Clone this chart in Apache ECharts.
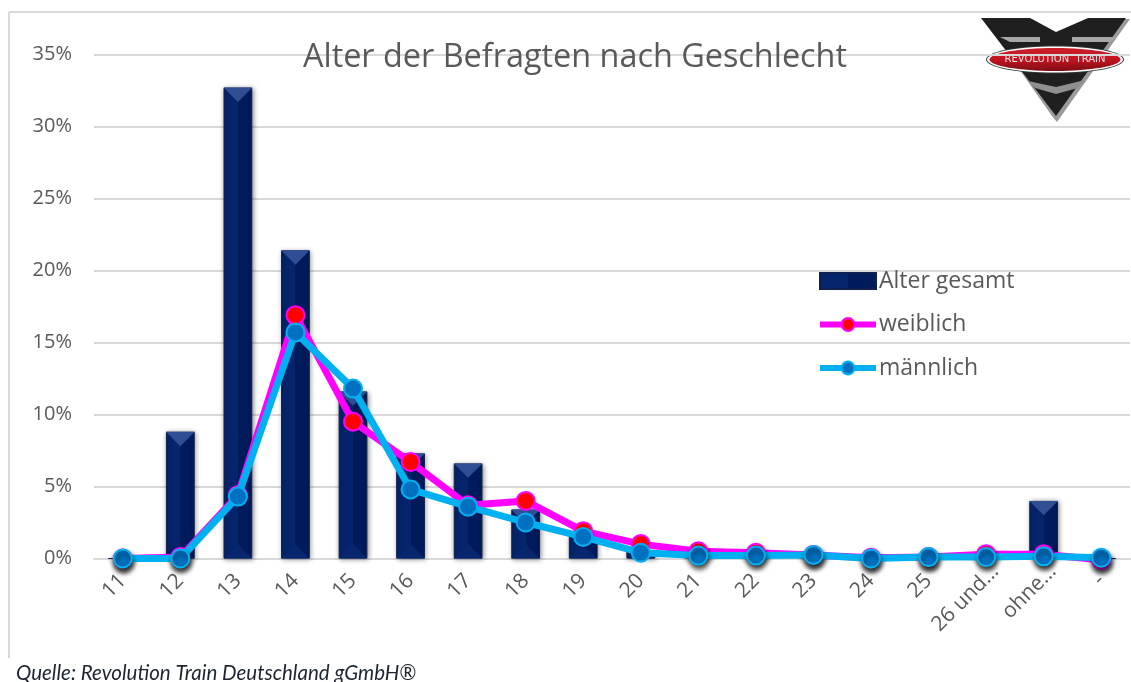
<!DOCTYPE html>
<html><head><meta charset="utf-8">
<style>html,body{margin:0;padding:0;background:#fff;overflow:hidden}#c{width:1131px;height:682px}</style>
<script src="https://cdn.jsdelivr.net/npm/echarts@6/dist/echarts.min.js"></script>
</head><body><div id="c"></div>
<script>
const categories = ['11','12','13','14','15','16','17','18','19','20','21','22','23','24','25','26 und…','ohne…','-'];
const gesamt = [0,8.8,32.7,21.4,11.6,7.3,6.6,3.4,1.7,0.5,0.2,0.2,0.2,0.05,0.1,0.2,4.0,0];
const weiblich = [0,0.1,4.4,16.9,9.5,6.7,3.7,4.0,1.9,1.0,0.5,0.4,0.25,0.05,0.1,0.3,0.3,-0.1];
const maennlich = [0,0,4.3,15.7,11.8,4.8,3.6,2.5,1.5,0.4,0.2,0.2,0.25,0,0.1,0.1,0.15,0.05];
const yTicks = {min:0,max:35,interval:5};

const TXT = '#595959', FONT = '"Open Sans"';
const barFill = {type:'linear',x:0,y:0,x2:1,y2:0,colorStops:[
  {offset:0,color:'#05246c'},{offset:0.5,color:'#05246c'},{offset:0.5,color:'#001b5b'},{offset:1,color:'#001b5b'}]};

function bevel(params, api){
  const idx = api.value(0), v = api.value(1);
  if (v <= 0.3) return null;
  const top = api.coord([idx, v]), base = api.coord([idx, 0]);
  const w = api.size([1,0])[0]*0.5, h = base[1]-top[1], t = Math.min(w/2, h/2);
  const L = top[0]-w/2, R = top[0]+w/2;
  return {type:'group',children:[
    {type:'polygon',shape:{points:[[L,top[1]],[R,top[1]],[top[0],top[1]+t]]},style:{fill:'#2f4e94'}},
    {type:'polygon',shape:{points:[[L,base[1]],[R,base[1]],[top[0],base[1]-t]]},style:{fill:'#07266e'}}
  ]};
}
const lineSym = (fill, ring) => ({color:fill,borderColor:ring,borderWidth:2});
const low = (arr, fill, ring) => arr.map((v,i)=> (i<2||i>=10)
  ? {value:v,itemStyle:{color:fill,borderColor:ring,borderWidth:2,shadowColor:'rgba(0,0,0,0.6)',shadowBlur:5,shadowOffsetX:1,shadowOffsetY:4}} : v);
const labelItems = categories.map(c => c.length > 2
  ? {value:c,textStyle:{padding:[0,-13,0,0]}} : c);

const chart = echarts.init(document.getElementById('c'),null,{renderer:'canvas'});
chart.setOption({
  animation:false,
  backgroundColor:'#fff',
  title:{text:'Alter der Befragten nach Geschlecht',left:570,top:37,textAlign:'center',
    textStyle:{fontFamily:FONT,fontSize:32.4,fontWeight:'normal',color:TXT}},
  grid:{left:94,right:1,top:54.5,bottom:123.5},
  legend:{left:812,top:264.5,orient:'vertical',itemWidth:56,itemHeight:16,itemGap:20.5,
    data:[{name:'Alter gesamt',icon:'rect'},{name:'weiblich'},{name:'männlich'}],selectedMode:false,
    lineStyle:{width:6},
    textStyle:{fontFamily:FONT,fontSize:23,color:TXT,padding:[0,0,0,-2]}},
  xAxis:{type:'category',data:labelItems,axisTick:{show:false},
    axisLine:{lineStyle:{color:'#d9d9d9',width:2}},
    axisLabel:{rotate:45,interval:0,fontFamily:FONT,fontSize:21,color:TXT,margin:19}},
  yAxis:{type:'value',min:yTicks.min,max:yTicks.max,interval:yTicks.interval,
    axisLine:{show:false},axisTick:{show:false},
    splitLine:{lineStyle:{color:'#d9d9d9',width:2}},
    axisLabel:{formatter:'{value}%',fontFamily:FONT,fontSize:20,color:TXT,margin:22,padding:[7,0,0,0]}},
  series:[
    {name:'Alter gesamt',type:'bar',data:gesamt,barWidth:'50%',z:2,
     itemStyle:{color:barFill,borderColor:'#10204f',borderWidth:1,shadowColor:'rgba(0,0,0,0.45)',shadowBlur:5,shadowOffsetX:1,shadowOffsetY:1}},
    {name:'bevel',type:'custom',data:gesamt.map((v,i)=>[i,v]),renderItem:bevel,z:3,silent:true,encode:{x:0,y:1}},
    {name:'weiblich',type:'line',data:low(weiblich,'#ff0000','#ff00ff'),z:4,clip:false,symbol:'circle',symbolSize:18,
     lineStyle:{color:'#ff00ff',width:7},itemStyle:lineSym('#ff0000','#ff00ff')},
    {name:'männlich',type:'line',data:low(maennlich,'#0070c0','#00b0f0'),z:5,clip:false,symbol:'circle',symbolSize:18,
     lineStyle:{color:'#00b0f0',width:7},itemStyle:lineSym('#0070c0','#00b0f0')}
  ],
  graphic:[
    {type:'line',z:0,shape:{x1:9,y1:12,x2:1131,y2:12},style:{stroke:'#d9d9d9',lineWidth:2}},
    {type:'line',z:0,shape:{x1:9,y1:12,x2:9,y2:658},style:{stroke:'#d9d9d9',lineWidth:2}},
    {type:'text',z:10,left:16,top:663,style:{text:'Quelle: Revolution Train Deutschland gGmbH®',fontFamily:'Lato',fontStyle:'italic',fontSize:20.5,fill:'#1c2530'}},
    {type:'group',z:20,silent:true,children:[
      {type:'polygon',shape:{points:[[984,19],[1032,19],[1056,33],[1088,19],[1130,19],[1057,122],[1052,116]]},style:{fill:'#9a9a9a'}},
      {type:'polygon',shape:{points:[[981,18],[1030,18],[1056,32],[1088,18],[1126,18],[1056,116]]},style:{fill:'#1f1f1f'}},
      {type:'polygon',shape:{points:[[1000,37],[1040,37],[1040,42],[1010,42]]},style:{fill:'#a8a8a8'}},
      {type:'polygon',shape:{points:[[1072,37],[1117,37],[1110,42],[1072,42]]},style:{fill:'#a8a8a8'}},
      {type:'polygon',shape:{points:[[1028,81],[1056,87],[1085,80],[1078,88],[1056,94],[1035,88]]},style:{fill:'#8f8f8f'}},
      {type:'ellipse',shape:{cx:1055,cy:59.5,rx:69,ry:14},style:{fill:'#3a3a3a'}},
      {type:'ellipse',shape:{cx:1055,cy:59.5,rx:68,ry:13},style:{fill:'#fff'}},
      {type:'ellipse',shape:{cx:1055,cy:59.5,rx:65.5,ry:11.5},style:{fill:{type:'linear',x:0,y:0,x2:0,y2:1,colorStops:[{offset:0,color:'#c8202a'},{offset:0.5,color:'#c41420'},{offset:1,color:'#7d0f14'}]}}},
      {type:'text',style:{x:1055,y:59.5,text:'REVOLUTION  TRAIN',align:'center',verticalAlign:'middle',fontFamily:'"DejaVu Sans"',fontSize:10,fill:'#e8e0e0'}}
    ]}
  ]
});
</script></body></html>
